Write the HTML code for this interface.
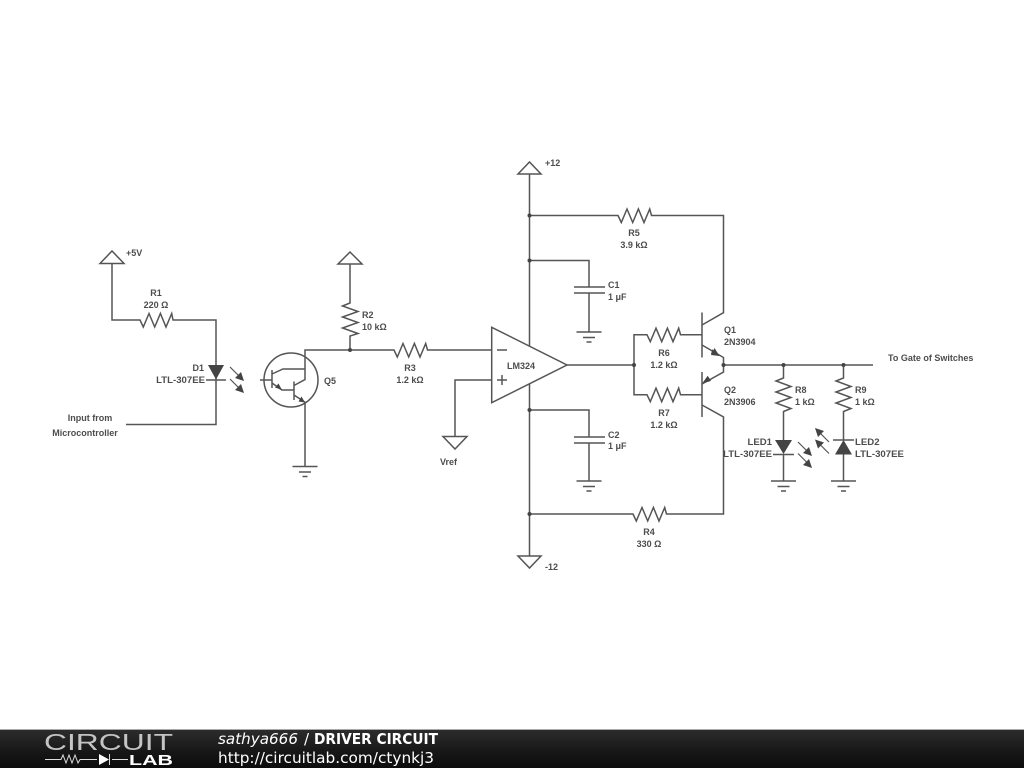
<!DOCTYPE html>
<html><head><meta charset="utf-8"><style>
html,body{margin:0;padding:0;background:#fff}
svg{display:block}
text{font-family:"Liberation Sans",sans-serif;font-size:9px;font-weight:bold;fill:#4d4d4d}
.w{fill:none;stroke:#555;stroke-width:1.5}
.m{text-anchor:middle}
.e{text-anchor:end}
.l{font-size:9.6px}
.f{font-family:"DejaVu Sans",sans-serif;font-size:15px;fill:#fff;font-weight:normal}
.b{filter:blur(.35px)}
</style></head><body>
<svg width="1024" height="768" viewBox="0 0 1024 768" xmlns="http://www.w3.org/2000/svg">
<defs>
<linearGradient id="g" x1="0" y1="0" x2="0" y2="1"><stop offset="0" stop-color="#2c2c2c"/><stop offset="0.6" stop-color="#161616"/><stop offset="1" stop-color="#0c0c0c"/></linearGradient>
<g id="gnd"><path class="w" d="M-12.5 0H12.5M-6 5.5H6M-2.5 10H2.5"/></g>
</defs>
<g class="b">
<g class="w">
<!-- +5V, R1, D1 -->
<path d="M100 263.5L112 251L124 263.5Z"/>
<path d="M112 263.5V320H140L143.3 327L149 313.5L154.7 327L160.4 313.5L166 327L171.7 313.5L173 320H216V424.5H126"/>
<path d="M206 380H226"/>
<!-- Q5 -->
<circle cx="291" cy="380" r="27"/>
<path d="M350 350H305V379.5L294 385.5M260 380H272M272 370V388M272 374L283 369H305M272 383L282 390H294M294 381.5V400M294 395L305 402.3V467"/>
<!-- R2 -->
<path d="M338 264L350 252L362 264Z" />
<path d="M350 264V303L342.5 306L358 311.5L342.5 317L358 322.5L342.5 328L358 333.5L350 336V350"/>
<!-- R3 -->
<path d="M350 350H394L397.3 357L403 343.5L408.7 357L414.4 343.5L420 357L425.7 343.5L427.5 350H492"/>
<!-- opamp -->
<path d="M491.7 327.3L567 365L491.7 402.7Z"/>
<path d="M497 350H507M497 380H507M502 375V385"/>
<path d="M492 380H455V436.5"/>
<path d="M443 436.5H467L455 449Z"/>
<!-- rails -->
<path d="M518 174L529.5 162L541 174Z"/>
<path d="M529.5 174V346M529.5 384V556"/>
<path d="M518 556H541L529.5 568Z"/>
<!-- R5 -->
<path d="M529.5 215.5H618L621.3 222.5L627 209L632.7 222.5L638.4 209L644 222.5L649.7 209L651.5 215.5H723.5V312.7L702 325"/>
<!-- C1 -->
<path d="M529.5 260.5H589V287M574 287H605M574 293H605M589 293V332"/>
<!-- C2 -->
<path d="M529.5 410H589V437M574 437H605M574 443H605M589 443V481"/>
<!-- R4 -->
<path d="M529.5 514H633L636.3 521L642 507.5L647.7 521L653.4 507.5L659 521L664.7 507.5L666.5 514H723.5V417L702 405"/>
<!-- output -->
<path d="M567 365H634M723.5 365H873"/>
<path d="M634 365V334.7H647L650.3 341.7L656 328.2L661.7 341.7L667.4 328.2L673 341.7L678.7 328.2L680.5 334.7H702"/>
<path d="M634 365V394.7H647L650.3 401.7L656 388.2L661.7 401.7L667.4 388.2L673 401.7L678.7 388.2L680.5 394.7H702"/>
<path d="M702 312.5V357.5M702 372V417"/>
<path d="M702 345L723.5 357.5V372L702 384"/>
<!-- R8 -->
<path d="M783.5 365V378L776 381L791 386.5L776 392L791 397.5L776 403L791 408.5L783.5 411.5V440M773 454.5H794M783.5 454V481"/>
<!-- R9 -->
<path d="M843.5 365V378L836 381L851 386.5L836 392L851 397.5L836 403L851 408.5L843.5 411.5V440M833 440H854M843.5 454V481"/>
<!-- LED arrows -->
<path d="M230 367L243 380M230 379L243 392M798 442L811 455M798 453.5L811 466.5M829 442L816 429M829 453.5L816 440.5" stroke-width="1.2"/>
</g>
<!-- filled -->
<g fill="#444">
<path d="M208 365H224L216 379.5Z"/>
<path d="M775 440H792L783.5 454Z"/>
<path d="M843.5 440L852 454.5H835Z"/>
<path d="M244 381L235 378L241 372Z"/>
<path d="M244 393L235 390L241 384Z"/>
<path d="M812 456L803 453L809 447Z"/>
<path d="M812 468L803 465L809 459Z"/>
<path d="M815 428L824 431L818 437Z"/>
<path d="M815 439.5L824 442.5L818 448.5Z"/>
<path d="M282 390L275 387.5L278.5 383.5Z"/>
<path d="M305 402.5L298.5 401.5L301.5 396.5Z"/>
<path d="M719 355.7L712.3 349.3L711 354.3Z" transform="translate(0,0)"/>
<path d="M719.5 356L711 355L714.5 348Z"/>
<path d="M702.3 383.3L707.7 375.7L711 381Z"/>
<circle cx="350" cy="350" r="2"/>
<circle cx="529.5" cy="215.5" r="2"/>
<circle cx="529.5" cy="260.5" r="2"/>
<circle cx="529.5" cy="410" r="2"/>
<circle cx="529.5" cy="514" r="2"/>
<circle cx="634" cy="365" r="2"/>
<circle cx="723.5" cy="365" r="2"/>
<circle cx="783.5" cy="365" r="2"/>
<circle cx="843.5" cy="365" r="2"/>
</g>
<use href="#gnd" x="305" y="466.5"/>
<use href="#gnd" x="589" y="332"/>
<use href="#gnd" x="589" y="481"/>
<use href="#gnd" x="783.5" y="481"/>
<use href="#gnd" x="843.5" y="481"/>
<!-- labels -->
<text x="126" y="256">+5V</text>
<text x="156" y="296" class="m">R1</text>
<text x="156" y="308" class="m">220 Ω</text>
<text x="204" y="371" class="e">D1</text>
<text x="205" y="383" class="e l">LTL-307EE</text>
<text x="90" y="421" class="m">Input from</text>
<text x="85" y="436" class="m">Microcontroller</text>
<text x="324" y="384">Q5</text>
<text x="362" y="318">R2</text>
<text x="362" y="330">10 kΩ</text>
<text x="410" y="371" class="m">R3</text>
<text x="410" y="383" class="m">1.2 kΩ</text>
<text x="545" y="166">+12</text>
<text x="521" y="369" class="m">LM324</text>
<text x="440" y="465">Vref</text>
<text x="634" y="236" class="m">R5</text>
<text x="634" y="248" class="m">3.9 kΩ</text>
<text x="608" y="288">C1</text>
<text x="608" y="300">1 μF</text>
<text x="608" y="438">C2</text>
<text x="608" y="449">1 μF</text>
<text x="649" y="535" class="m">R4</text>
<text x="649" y="547" class="m">330 Ω</text>
<text x="545" y="570">-12</text>
<text x="664" y="356" class="m">R6</text>
<text x="664" y="368" class="m">1.2 kΩ</text>
<text x="664" y="416" class="m">R7</text>
<text x="664" y="428" class="m">1.2 kΩ</text>
<text x="724" y="333">Q1</text>
<text x="724" y="345">2N3904</text>
<text x="724" y="393">Q2</text>
<text x="724" y="405">2N3906</text>
<text x="795" y="393">R8</text>
<text x="795" y="405">1 kΩ</text>
<text x="855" y="393">R9</text>
<text x="855" y="405">1 kΩ</text>
<text x="772" y="445" class="e l">LED1</text>
<text x="772" y="457" class="e l">LTL-307EE</text>
<text x="855" y="445" class="l">LED2</text>
<text x="855" y="457" class="l">LTL-307EE</text>
<text x="888" y="361">To Gate of Switches</text>
</g>
<!-- footer -->
<rect x="0" y="730" width="1024" height="38" fill="url(#g)"/>
<rect x="0" y="729" width="1024" height="1" fill="#aaa"/>
<g class="b">
<text x="44" y="750" textLength="129" lengthAdjust="spacingAndGlyphs" style="font-size:23.5px;font-weight:normal;fill:#c4c4c4">CIRCUIT</text>
<path d="M45 759.5H61L63 755L66 763L69 755L72 763L75 755L78 763L80 759.5H97M112 759.5H128M109.5 754V765" fill="none" stroke="#ddd" stroke-width="1"/>
<path d="M99 754L109 759.5L99 765Z" fill="#fff"/>
<text x="129" y="765" textLength="44" lengthAdjust="spacingAndGlyphs" style="font-size:15px;font-weight:bold;fill:#fff">LAB</text>
<text x="218" y="744" class="f" font-style="italic" textLength="80" lengthAdjust="spacingAndGlyphs">sathya666</text>
<text x="304" y="744" class="f">/</text>
<text x="314" y="744" class="f" font-weight="bold" style="font-weight:bold" textLength="124" lengthAdjust="spacingAndGlyphs">DRIVER CIRCUIT</text>
<text x="218" y="763" class="f" textLength="216" lengthAdjust="spacingAndGlyphs">http://circuitlab.com/ctynkj3</text>
</g>
</svg>
</body></html>
